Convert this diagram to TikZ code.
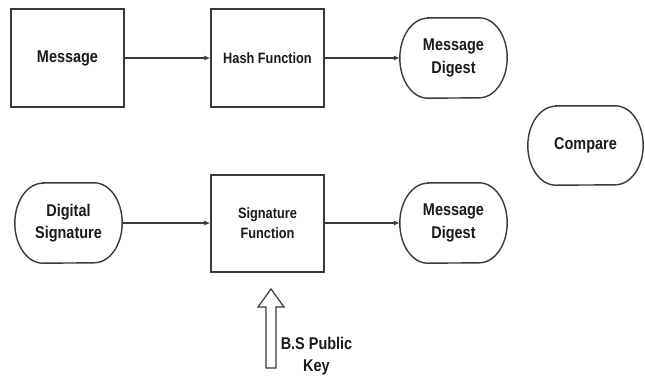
\documentclass[tikz,border=0pt]{standalone}
\usepackage{fontspec}
\setmainfont{Liberation Sans}[FakeStretch=0.85]
\usetikzlibrary{arrows.meta}

\definecolor{edge}{HTML}{3A3A3A}
\definecolor{ink}{HTML}{1A1A1A}

% outline of a terminal (stadium) node with half-elliptic ends
\newcommand\stadiumline[2]{%
  \draw[outline] ([xshift=28pt]#1.north west) -- ([xshift=-28pt]#1.north east)
    arc[start angle=90,end angle=-90,x radius=28pt,y radius=#2]
    -- ([xshift=28pt]#1.south west)
    arc[start angle=270,end angle=90,x radius=28pt,y radius=#2]
    -- cycle;}

\begin{document}
\begin{tikzpicture}[x=1pt,y=-1pt,
  outline/.style={draw=edge,line width=1.4pt},
  bigtext/.style={font=\fontsize{17}{22.5}\selectfont\bfseries,text=ink,align=center},
  smalltext/.style={font=\fontsize{15}{20}\selectfont\bfseries,text=ink,align=center},
  stepbox/.style={outline,minimum width=113pt,minimum height=98pt,inner sep=0pt},
  terminal/.style={minimum width=107pt,minimum height=80pt,inner sep=0pt},
  flow/.style={draw=edge,line width=1.4pt,-{Latex[length=6pt,width=5pt]}}]

\useasboundingbox[fill=white] (0,0) rectangle (645,376);

% upper row
\node[stepbox,bigtext]   (msg)  at (67.5,58)  {Message};
\node[stepbox,smalltext] (hash) at (267.5,58) {Hash Function};
\node[terminal,bigtext] (dig1) at (453.5,58) {Message\\Digest};
\stadiumline{dig1}{40pt}

% compare
\node[terminal,bigtext,minimum width=115pt,minimum height=79pt] (cmp) at (585.5,145.5) {Compare};
\stadiumline{cmp}{39.5pt}

% lower row
\node[terminal,bigtext] (dsig) at (68.5,223) {Digital\\Signature};
\stadiumline{dsig}{40pt}
\node[stepbox,smalltext,minimum height=97pt] (sigf) at (267.5,223.5) {Signature\\Function};
\node[terminal,bigtext] (dig2) at (453.5,223) {Message\\Digest};
\stadiumline{dig2}{40pt}

% connectors
\draw[flow] (msg.east)  -- (hash.west);
\draw[flow] (hash.east) -- (dig1.west);
\draw[flow] (dsig.east) -- (sigf.west|-dsig.east);
\draw[flow] (sigf.east|-dig2.west) -- (dig2.west);

% hollow key arrow
\coordinate (keytip) at (271,289);
\draw[draw=edge,line width=1.2pt,line join=miter,fill=white]
  (keytip) -- ++(13,18) -- ++(-8,0) -- ++(0,61) -- ++(-10,0) -- ++(0,-61) -- ++(-8,0) -- cycle;
\node[bigtext] (key) at (316.5,356) {B.S Public\\Key};

\end{tikzpicture}
\end{document}
